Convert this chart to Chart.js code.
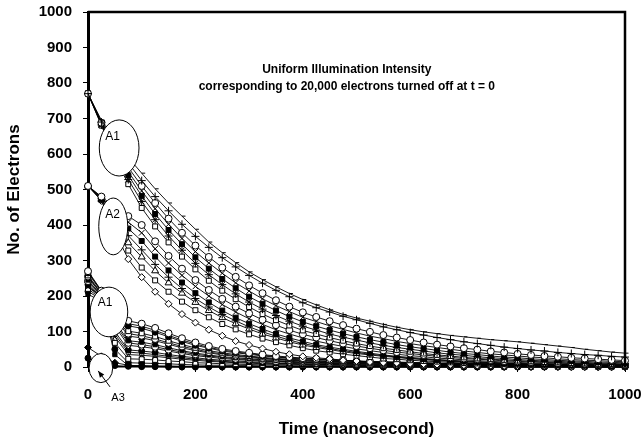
<!DOCTYPE html>
<html>
<head>
<meta charset="utf-8">
<script src="https://cdn.jsdelivr.net/npm/chart.js@4.4.1/dist/chart.umd.min.js"></script>
<style>
  html, body { margin: 0; padding: 0; background: #fff; }
</style>
</head>
<body>
<canvas id="elektronDiagram" width="642" height="440"></canvas>
<script>
/**
 * decay of stored electrons after uniform illumination is turned off at t = 0
 * every curve is read off the scanned figure, one value per 25 ns
 */

// time axis, nanoseconds
const times = [0, 25, 50, 75, 100, 125, 150, 175, 200, 225, 250, 275, 300, 325, 350, 375, 400,
  425, 450, 475, 500, 525, 550, 575, 600, 625, 650, 675, 700, 725, 750, 775, 800,
  825, 850, 875, 900, 925, 950, 975, 1000];

// group starting at ~770 (A1, upper)
const a1Curve1 = [770, 695, 640, 590, 546, 502, 462, 425, 388, 352, 322, 294, 268, 246, 226, 207, 190, 175, 161, 148, 138, 129, 120, 112, 105, 99, 94, 89, 85, 81, 77, 74, 71, 67, 63, 59, 55, 50, 46, 42, 39];
const a1Curve2 = [770, 690, 630, 575, 525, 480, 440, 402, 368, 337, 308, 282, 258, 236, 216, 198, 181, 167, 155, 143, 133, 123, 113, 105, 97, 90, 83, 77, 71, 66, 61, 56, 52, 48, 45, 41, 38, 35, 33, 30, 28];
const a1Curve3 = [770, 688, 622, 562, 510, 462, 418, 378, 342, 310, 280, 254, 230, 208, 188, 170, 154, 141, 129, 118, 108, 99, 90, 83, 76, 69, 63, 58, 53, 49, 44, 41, 37, 34, 31, 29, 26, 24, 22, 20, 18];
const a1Curve4 = [770, 686, 615, 550, 496, 446, 402, 362, 325, 293, 264, 237, 214, 192, 173, 156, 140, 128, 116, 106, 96, 87, 80, 72, 66, 60, 55, 50, 45, 41, 37, 34, 31, 28, 26, 23, 21, 19, 18, 16, 15];
const a1Curve5 = [770, 684, 608, 540, 482, 431, 386, 346, 309, 277, 248, 222, 198, 178, 159, 142, 127, 115, 104, 94, 85, 77, 70, 63, 57, 52, 47, 42, 38, 35, 31, 28, 26, 23, 21, 19, 17, 16, 14, 13, 12];
const a1Curve6 = [770, 682, 600, 528, 466, 415, 369, 329, 292, 260, 232, 206, 183, 163, 145, 129, 115, 104, 93, 84, 76, 68, 61, 55, 50, 45, 40, 36, 33, 29, 26, 24, 21, 19, 17, 16, 14, 13, 11, 10, 9];
const a1Curve7 = [770, 680, 592, 515, 448, 396, 351, 311, 275, 243, 215, 191, 169, 149, 132, 117, 103, 93, 83, 74, 66, 59, 53, 48, 43, 38, 34, 31, 27, 24, 22, 20, 18, 16, 14, 13, 11, 10, 9, 8, 7];

// group starting at ~510 (A2)
const a2Curve1 = [510, 480, 450, 425, 400, 354, 313, 277, 245, 217, 192, 170, 151, 133, 118, 104, 92, 83, 74, 66, 59, 53, 47, 42, 38, 34, 30, 27, 24, 22, 20, 17, 16, 14, 13, 11, 10, 9, 8, 7, 6];
const a2Curve2 = [510, 478, 440, 408, 378, 333, 293, 258, 227, 200, 176, 155, 136, 120, 105, 93, 82, 73, 65, 58, 51, 46, 41, 36, 32, 29, 25, 23, 20, 18, 16, 14, 13, 11, 10, 9, 8, 7, 6, 6, 5];
const a2Curve3 = [510, 476, 430, 390, 355, 311, 272, 238, 208, 182, 159, 139, 122, 107, 93, 82, 72, 63, 56, 50, 44, 39, 34, 30, 27, 24, 21, 19, 17, 15, 13, 11, 10, 9, 8, 7, 6, 5, 5, 4, 4];
const a2Curve4 = [510, 474, 418, 370, 330, 289, 253, 221, 193, 169, 148, 130, 113, 99, 87, 76, 66, 59, 52, 46, 41, 36, 32, 28, 25, 22, 20, 17, 15, 14, 12, 11, 9, 8, 7, 7, 6, 5, 5, 4, 4];
const a2Curve5 = [510, 472, 405, 350, 310, 271, 237, 208, 182, 159, 139, 122, 107, 93, 82, 71, 62, 55, 49, 43, 38, 34, 30, 27, 23, 21, 18, 16, 14, 13, 11, 10, 9, 8, 7, 6, 5, 5, 4, 4, 3];
const a2Curve6 = [510, 470, 392, 328, 280, 244, 212, 184, 160, 140, 121, 106, 92, 80, 70, 61, 53, 46, 41, 36, 32, 28, 24, 22, 19, 17, 15, 13, 11, 10, 9, 8, 7, 6, 5, 5, 4, 4, 3, 3, 2];
const a2Curve7 = [510, 468, 380, 304, 253, 212, 178, 149, 125, 105, 88, 73, 62, 52, 43, 36, 30, 26, 23, 19, 17, 14, 12, 11, 9, 8, 7, 6, 5, 4, 4, 3, 3, 2, 2, 2, 1, 1, 1, 1, 1];

// group starting at ~250 (A1, lower)
const lowCurve1 = [270, 215, 165, 130, 122, 110, 95, 81, 69, 59, 51, 45, 40, 35, 31, 28, 25, 23, 21, 19, 17, 16, 15, 14, 13, 12, 11, 10, 10, 9, 9, 8, 8, 7, 7, 6, 6, 6, 5, 5, 5];
const lowCurve2 = [268, 213, 162, 122, 115, 103, 89, 76, 65, 55, 48, 42, 38, 33, 29, 26, 24, 22, 20, 18, 16, 15, 14, 13, 12, 11, 10, 9, 9, 8, 8, 8, 8, 7, 7, 6, 6, 6, 5, 5, 5];
const lowCurve3 = [265, 212, 158, 116, 109, 98, 85, 72, 61, 53, 45, 40, 36, 31, 28, 25, 22, 21, 19, 17, 15, 14, 13, 12, 12, 11, 10, 9, 9, 8, 8, 7, 7, 6, 6, 5, 5, 5, 4, 4, 4];
const lowCurve4 = [258, 208, 150, 101, 95, 86, 74, 63, 54, 46, 40, 35, 31, 27, 24, 22, 20, 18, 16, 15, 13, 13, 12, 11, 10, 9, 9, 8, 8, 7, 7, 6, 6, 5, 5, 5, 5, 5, 4, 4, 4];
const lowCurve5 = [255, 206, 145, 94, 88, 79, 68, 58, 50, 42, 37, 32, 29, 25, 22, 20, 18, 17, 15, 14, 12, 12, 11, 10, 9, 9, 8, 7, 7, 6, 6, 6, 6, 5, 5, 4, 4, 4, 4, 4, 4];
const lowCurve6 = [252, 205, 140, 87, 82, 74, 64, 54, 46, 40, 34, 30, 27, 23, 21, 19, 17, 15, 14, 13, 11, 11, 10, 9, 9, 8, 7, 7, 7, 6, 6, 5, 5, 5, 5, 4, 4, 4, 3, 3, 3];
const lowCurve7 = [245, 202, 128, 74, 70, 63, 54, 46, 39, 34, 29, 26, 23, 20, 18, 16, 14, 13, 12, 11, 10, 9, 9, 8, 7, 7, 6, 6, 6, 5, 5, 5, 5, 4, 4, 3, 3, 3, 3, 3, 3];
const lowCurve8 = [242, 201, 122, 68, 63, 57, 49, 42, 36, 31, 27, 23, 21, 18, 16, 15, 13, 12, 11, 10, 9, 8, 8, 7, 7, 6, 6, 5, 5, 5, 5, 4, 4, 4, 4, 3, 3, 3, 3, 3, 3];
const lowCurve9 = [238, 200, 115, 61, 57, 52, 45, 38, 32, 28, 24, 21, 19, 16, 15, 13, 12, 11, 10, 9, 8, 8, 7, 7, 6, 6, 5, 5, 5, 4, 4, 4, 4, 3, 3, 3, 3, 3, 2, 2, 2];
const lowCurve10 = [232, 197, 100, 48, 45, 41, 35, 30, 26, 22, 19, 17, 15, 13, 11, 10, 9, 9, 8, 7, 6, 6, 6, 5, 5, 4, 4, 4, 4, 3, 3, 3, 3, 3, 3, 2, 2, 2, 2, 2, 2];
const lowCurve11 = [229, 196, 92, 42, 39, 35, 30, 26, 22, 19, 16, 14, 13, 11, 10, 9, 8, 7, 7, 6, 5, 5, 5, 4, 4, 4, 4, 3, 3, 3, 3, 3, 3, 2, 2, 2, 2, 2, 2, 2, 2];
const lowCurve12 = [226, 195, 85, 35, 33, 30, 26, 22, 19, 16, 14, 12, 11, 9, 8, 8, 7, 6, 6, 5, 5, 4, 4, 4, 4, 3, 3, 3, 3, 2, 2, 2, 2, 2, 2, 2, 2, 2, 1, 1, 1];
const lowCurve13 = [220, 192, 68, 23, 22, 20, 17, 15, 12, 11, 9, 8, 7, 6, 6, 5, 5, 4, 4, 3, 3, 3, 3, 3, 2, 2, 2, 2, 2, 2, 2, 1, 1, 1, 1, 1, 1, 1, 1, 1, 1];
const lowCurve14 = [213, 190, 50, 12, 11, 10, 9, 7, 6, 5, 5, 4, 4, 3, 3, 3, 2, 2, 2, 2, 2, 1, 1, 1, 1, 1, 1, 1, 1, 1, 1, 1, 1, 1, 1, 1, 1, 1, 0, 0, 0];
const lowCurve15 = [205, 185, 35, 4, 4, 3, 3, 2, 2, 2, 2, 1, 1, 1, 1, 1, 1, 1, 1, 1, 1, 1, 1, 1, 1, 0, 0, 0, 0, 0, 0, 0, 0, 0, 0, 0, 0, 0, 0, 0, 0];

// smallest group near zero (A3)
const a3Curve1 = [55, 30, 12, 5, 3, 2, 1, 1, 1, 0, 0, 0, 0, 0, 0, 0, 0, 0, 0, 0, 0, 0, 0, 0, 0, 0, 0, 0, 0, 0, 0, 0, 0, 0, 0, 0, 0, 0, 0, 0, 0];
const a3Curve2 = [25, 10, 4, 2, 1, 1, 0, 0, 0, 0, 0, 0, 0, 0, 0, 0, 0, 0, 0, 0, 0, 0, 0, 0, 0, 0, 0, 0, 0, 0, 0, 0, 0, 0, 0, 0, 0, 0, 0, 0, 0];

const yTicks = [0, 100, 200, 300, 400, 500, 600, 700, 800, 900, 1000];
const xTicks = [0, 200, 400, 600, 800, 1000];

const FONT = "'Liberation Sans', Arial, sans-serif";
const WHITE = '#fff';
const BLACK = '#000';

/**
 * curve list with marker look, all black and white like the print
 */
const curves = [
  {data: a1Curve1, style: 'dash', fill: BLACK, r: 3.5},
  {data: a1Curve2, style: 'cross', fill: WHITE, r: 4},
  {data: a1Curve3, style: 'circle', fill: WHITE, r: 3.5},
  {data: a1Curve4, style: 'crossRot', fill: WHITE, r: 4},
  {data: a1Curve5, style: 'rect', fill: BLACK, r: 3.5},
  {data: a1Curve6, style: 'star', fill: WHITE, r: 4},
  {data: a1Curve7, style: 'rect', fill: WHITE, r: 3.5},
  {data: a2Curve1, style: 'circle', fill: WHITE, r: 3.5},
  {data: a2Curve2, style: 'crossRot', fill: WHITE, r: 4},
  {data: a2Curve3, style: 'rect', fill: BLACK, r: 3.5},
  {data: a2Curve4, style: 'cross', fill: WHITE, r: 4},
  {data: a2Curve5, style: 'triangle', fill: WHITE, r: 4},
  {data: a2Curve6, style: 'rect', fill: WHITE, r: 3.5},
  {data: a2Curve7, style: 'rectRot', fill: WHITE, r: 3.5},
  {data: lowCurve1, style: 'circle', fill: WHITE, r: 3.5},
  {data: lowCurve2, style: 'rect', fill: BLACK, r: 3},
  {data: lowCurve3, style: 'circle', fill: BLACK, r: 3},
  {data: lowCurve4, style: 'rect', fill: WHITE, r: 3.5},
  {data: lowCurve5, style: 'circle', fill: WHITE, r: 3.5},
  {data: lowCurve6, style: 'triangle', fill: BLACK, r: 3.5},
  {data: lowCurve7, style: 'rect', fill: BLACK, r: 3},
  {data: lowCurve8, style: 'circle', fill: WHITE, r: 3.5},
  {data: lowCurve9, style: 'rectRot', fill: WHITE, r: 3.5},
  {data: lowCurve10, style: 'circle', fill: BLACK, r: 3},
  {data: lowCurve11, style: 'rect', fill: WHITE, r: 3},
  {data: lowCurve12, style: 'crossRot', fill: WHITE, r: 3.5},
  {data: lowCurve13, style: 'rect', fill: WHITE, r: 3.5},
  {data: lowCurve14, style: 'circle', fill: BLACK, r: 3},
  {data: lowCurve15, style: 'rect', fill: BLACK, r: 3},
  {data: a3Curve1, style: 'rectRot', fill: BLACK, r: 3.5},
  {data: a3Curve2, style: 'circle', fill: BLACK, r: 3}
];

// callouts in data units (ns, electrons)
const ellipses = [
  {label: 'A1', t: 58, v: 617, rt: 37, rv: 79, lt: 46, lv: 648},
  {label: 'A2', t: 47, v: 396, rt: 27, rv: 80, lt: 46, lv: 428},
  {label: 'A1', t: 39, v: 155, rt: 35, rv: 70, lt: 32, lv: 180},
  {label: '', t: 24, v: -3, rt: 22, rv: 41}
];
const noteLines = ['Uniform Illumination Intensity', 'corresponding to 20,000 electrons turned off at t = 0'];

const datasets = curves.map(c => ({
  data: times.map((t, i) => ({x: t, y: c.data[i]})),
  borderColor: BLACK,
  borderWidth: 0.9,
  pointStyle: c.style,
  pointRadius: c.r,
  pointBackgroundColor: c.fill,
  pointBorderColor: BLACK,
  pointBorderWidth: 1,
  fill: false,
  tension: 0,
  clip: 4
}));

/**
 * frame, callout ellipses and the text in the plot
 */
const callouts = {
  id: 'callouts',
  afterDraw(chart) {
    const {ctx, chartArea, scales: {x, y}} = chart;
    ctx.save();
    ctx.strokeStyle = BLACK;
    ctx.lineWidth = 2.5;
    ctx.beginPath();
    ctx.moveTo(chartArea.left, chartArea.top);
    ctx.lineTo(chartArea.right, chartArea.top);
    ctx.lineTo(chartArea.right, chartArea.bottom);
    ctx.stroke();

    ellipses.forEach(e => {
      const cx = x.getPixelForValue(e.t);
      const cy = y.getPixelForValue(e.v);
      const rx = x.getPixelForValue(e.t + e.rt) - cx;
      const ry = cy - y.getPixelForValue(e.v + e.rv);
      ctx.beginPath();
      ctx.ellipse(cx, cy, rx, ry, 0, 0, Math.PI * 2);
      ctx.fillStyle = WHITE;
      ctx.fill();
      ctx.lineWidth = 1;
      ctx.stroke();
      if (e.label) {
        ctx.fillStyle = BLACK;
        ctx.font = '12px ' + FONT;
        ctx.textAlign = 'center';
        ctx.textBaseline = 'middle';
        ctx.fillText(e.label, x.getPixelForValue(e.lt), y.getPixelForValue(e.lv));
      }
    });

    // A3 label with arrow
    const tipX = x.getPixelForValue(19), tipY = y.getPixelForValue(-11);
    const tailX = x.getPixelForValue(41), tailY = y.getPixelForValue(-56);
    ctx.beginPath();
    ctx.moveTo(tailX, tailY);
    ctx.lineTo(tipX, tipY);
    ctx.lineWidth = 1;
    ctx.stroke();
    const ang = Math.atan2(tipY - tailY, tipX - tailX);
    ctx.beginPath();
    ctx.moveTo(tipX, tipY);
    ctx.lineTo(tipX - 7 * Math.cos(ang - 0.4), tipY - 7 * Math.sin(ang - 0.4));
    ctx.lineTo(tipX - 7 * Math.cos(ang + 0.4), tipY - 7 * Math.sin(ang + 0.4));
    ctx.closePath();
    ctx.fillStyle = BLACK;
    ctx.fill();
    ctx.font = '11px ' + FONT;
    ctx.textAlign = 'center';
    ctx.textBaseline = 'middle';
    ctx.fillText('A3', x.getPixelForValue(56), y.getPixelForValue(-87));

    ctx.font = 'bold 12px ' + FONT;
    ctx.fillText(noteLines[0], x.getPixelForValue(482), y.getPixelForValue(837));
    ctx.fillText(noteLines[1], x.getPixelForValue(482), y.getPixelForValue(789));
    ctx.restore();
  }
};

new Chart(document.getElementById('elektronDiagram'), {
  type: 'line',
  data: {datasets},
  options: {
    responsive: false,
    animation: false,
    devicePixelRatio: 1,
    layout: {padding: {top: 12, right: 17, left: 0, bottom: 0}},
    plugins: {legend: {display: false}, tooltip: {enabled: false}},
    scales: {
      x: {
        type: 'linear',
        min: 0,
        max: 1000,
        afterFit(scale) {
          scale.height = 73;
          scale.paddingLeft = 0;
          scale.paddingRight = 0;
        },
        afterBuildTicks(scale) { scale.ticks = xTicks.map(v => ({value: v})); },
        border: {display: true, color: BLACK, width: 1.5},
        grid: {drawOnChartArea: false, drawTicks: true, tickLength: 5, color: BLACK},
        ticks: {color: BLACK, padding: 14, maxRotation: 0, callback: v => String(v),
          font: {family: FONT, size: 15, weight: 'bold'}},
        title: {display: true, text: 'Time (nanosecond)', color: BLACK, padding: {top: 0, bottom: 0},
          font: {family: FONT, size: 17, weight: 'bold'}}
      },
      y: {
        min: 0,
        max: 1000,
        afterFit(scale) {
          scale.width = 88;
          scale.paddingTop = 0;
          scale.paddingBottom = 0;
        },
        afterBuildTicks(scale) { scale.ticks = yTicks.map(v => ({value: v})); },
        border: {display: true, color: BLACK, width: 3},
        grid: {drawOnChartArea: false, drawTicks: true, tickLength: 5, color: BLACK},
        ticks: {color: BLACK, padding: 11, callback: v => String(v),
          font: {family: FONT, size: 15, weight: 'bold'}},
        title: {display: true, text: 'No. of Electrons', color: BLACK, padding: {top: 4, bottom: 0},
          font: {family: FONT, size: 17, weight: 'bold'}}
      }
    }
  },
  plugins: [callouts]
});
</script>
</body>
</html>
